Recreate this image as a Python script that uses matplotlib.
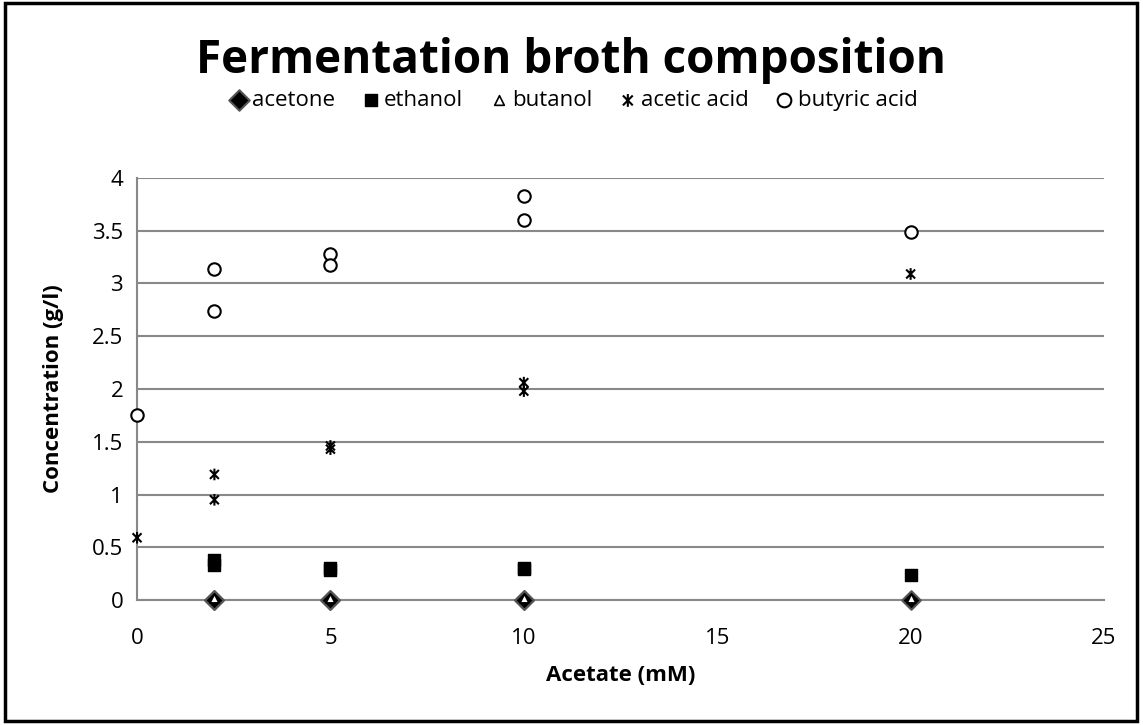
import matplotlib.pyplot as plt
from matplotlib.path import Path
from matplotlib.patches import Rectangle

plt.rcParams['font.family'] = ['Open Sans', 'DejaVu Sans']

# data
acetone_x = [2, 2, 5, 5, 10, 10, 20]
acetone_y = [0.0, 0.0, 0.0, 0.0, 0.0, 0.0, 0.0]
ethanol_x = [2, 2, 5, 5, 10, 10, 20]
ethanol_y = [0.38, 0.33, 0.30, 0.28, 0.30, 0.29, 0.24]
butanol_x = [2, 2, 5, 5, 10, 10, 20]
butanol_y = [0.02, 0.02, 0.02, 0.02, 0.02, 0.02, 0.02]
acetic_x = [0, 2, 2, 5, 5, 10, 10, 20]
acetic_y = [0.59, 1.19, 0.95, 1.46, 1.43, 2.06, 1.98, 3.09]
butyric_x = [0, 2, 2, 5, 5, 10, 10, 20]
butyric_y = [1.75, 3.14, 2.74, 3.28, 3.18, 3.83, 3.60, 3.49]

# excel style star: x plus vertical bar
star = Path([(-1, -1), (1, 1), (-1, 1), (1, -1), (0, -1.3), (0, 1.3)],
            [Path.MOVETO, Path.LINETO, Path.MOVETO, Path.LINETO, Path.MOVETO, Path.LINETO])

fig = plt.figure(figsize=(11.43, 7.25), dpi=100)
ax = fig.add_axes([0.1199, 0.1724, 0.8460, 0.5821])

ax.scatter(acetone_x, acetone_y, marker='D', s=90, facecolor='black', edgecolor='#555555',
           linewidth=1.5, label='acetone', zorder=3, clip_on=False)
ax.scatter(ethanol_x, ethanol_y, marker='s', s=70, facecolor='black', edgecolor='black',
           label='ethanol', zorder=3, clip_on=False)
ax.scatter(butanol_x, butanol_y, marker='^', s=40, facecolor='white', edgecolor='black',
           linewidth=1.2, label='butanol', zorder=4, clip_on=False)
ax.scatter(acetic_x, acetic_y, marker=star, s=70, facecolor='none', edgecolor='black',
           linewidth=1.5, label='acetic acid', zorder=3, clip_on=False)
ax.scatter(butyric_x, butyric_y, marker='o', s=80, facecolor='white', edgecolor='black',
           linewidth=1.5, label='butyric acid', zorder=3, clip_on=False)

ax.set_xlim(0, 25)
ax.set_ylim(0, 4)
ax.set_xticks([0, 5, 10, 15, 20, 25])
ax.set_yticks([0, 0.5, 1, 1.5, 2, 2.5, 3, 3.5, 4])
ax.set_yticklabels(['0', '0.5', '1', '1.5', '2', '2.5', '3', '3.5', '4'])
ax.tick_params(axis='both', labelsize=16, length=0)
ax.tick_params(axis='x', pad=20)
ax.tick_params(axis='y', pad=10)
ax.grid(axis='y', color='#888888', linewidth=1.5)
ax.set_axisbelow(True)
for side in ['top', 'right']:
    ax.spines[side].set_visible(False)
ax.spines['left'].set_color('#888888')
ax.spines['bottom'].set_color('#888888')
ax.spines['left'].set_linewidth(1.5)
ax.spines['bottom'].set_linewidth(1.5)

ax.set_xlabel('Acetate (mM)', fontsize=16, fontweight='bold', labelpad=12)
ax.set_ylabel('Concentration (g/l)', fontsize=16, fontweight='bold', labelpad=20)

fig.text(0.5, 0.916, 'Fermentation broth composition', ha='center', va='center',
         fontsize=33, fontweight='bold')
fig.legend(loc='center', bbox_to_anchor=(0.5, 0.861), ncol=5, frameon=False, fontsize=16,
           handletextpad=0.0, columnspacing=1.0, handlelength=1.2, markerscale=1.1)

fig.patches.append(Rectangle((0.004, 0.006), 0.991, 0.99, transform=fig.transFigure,
                             fill=False, edgecolor='black', linewidth=2.5))

fig.savefig('out.png', dpi=100)
